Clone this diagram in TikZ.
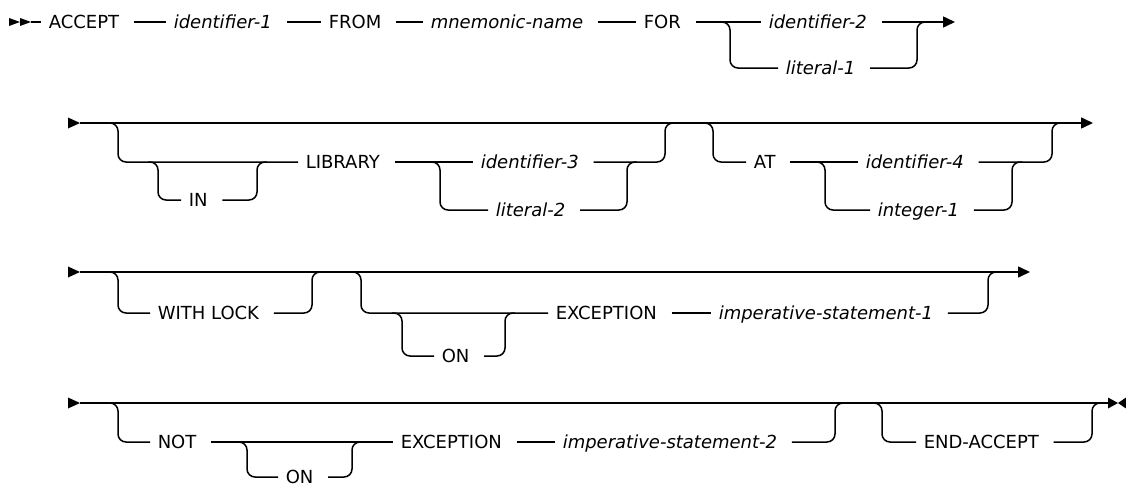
\documentclass[tikz,border=0pt]{standalone}
\usepackage{fontspec}
\setmainfont{DejaVu Sans}
\usetikzlibrary{arrows.meta}
\newcommand{\dfont}{\fontsize{18}{20}\selectfont}
\begin{document}
\begin{tikzpicture}[
  x=1pt, y=-1pt,
  line width=1.5pt,
  kw/.style={font=\dfont, anchor=west, inner xsep=7pt, inner ysep=0pt, text height=13pt, text depth=0pt, execute at end node={\hspace{7pt}}},
  var/.style={kw, font=\dfont\itshape},
  rc/.style={rounded corners=8pt},
  arr/.style={-{Triangle[length=12pt, width=11pt]}}
]
\useasboundingbox (0,0) rectangle (1126,487);
% Row 1: ACCEPT ... FOR
\coordinate (r1s) at (31,22);
\fill (r1s) -- ++(-11,-4) -- ++(0,8) -- cycle;
\fill ([xshift=-11pt]r1s) -- ++(-11,-4) -- ++(0,8) -- cycle;
\node[kw]  (accept) at (41,22)  {ACCEPT};
\node[var] (id1)    at (166,22) {identifier-1};
\node[kw]  (from)   at (321,22) {FROM};
\node[var] (mnem)   at (423,22) {mnemonic-name};
\node[kw]  (for)    at (636,22) {FOR};
\node[var] (id2)    at (761,22) {identifier-2};
\node[var] (lit1)   at (778,68) {literal-1};
\coordinate (c1a) at (730,22);
\coordinate (c1b) at (917,22);
\coordinate (r1e) at (955,22);
\draw (r1s) -- (accept);
\draw (accept) -- (id1);
\draw (id1) -- (from);
\draw (from) -- (mnem);
\draw (mnem) -- (for);
\draw (for) -- (id2);
\draw[arr] (id2) -- (r1e);
\draw[rc] ([xshift=-10pt]c1a) -| (c1a |- lit1.west) -- (lit1.west);
\draw[rc] (lit1.east) -| (c1b) -- ([xshift=10pt]c1b);
% Row 2: IN LIBRARY, AT
\coordinate (r2s) at (80,123);
\coordinate (r2e) at (1093,123);
\fill (r2s) -- ++(-12,-5.5) -- ++(0,11) -- cycle;
\draw[arr] (r2s) -- (r2e);
\coordinate (o2a) at (118,123);
\coordinate (in1) at (158,162);
\node[kw] (kin) at (181,200) {IN};
\coordinate (in2) at (257,162);
\node[kw]  (lib)  at (298,162) {LIBRARY};
\node[var] (id3)  at (473,162) {identifier-3};
\node[var] (lit2) at (488,210) {literal-2};
\coordinate (c2a) at (440,162);
\coordinate (c2b) at (627,162);
\coordinate (o2b) at (665,123);
\draw[rc] ([xshift=-10pt]o2a) -| (o2a |- lib.west) -- (lib.west);
\draw[rc] ([xshift=-10pt]in1) -| (in1 |- kin.west) -- (kin.west);
\draw[rc] (kin.east) -| (in2) -- ([xshift=10pt]in2);
\draw (lib) -- (id3);
\draw[rc] ([xshift=-10pt]c2a) -| (c2a |- lit2.west) -- (lit2.west);
\draw[rc] (lit2.east) -| (c2b) -- ([xshift=10pt]c2b);
\draw[rc] (id3.east) -| (o2b) -- ([xshift=10pt]o2b);
\coordinate (o3a) at (713,123);
\node[kw]  (kat)  at (746,162) {AT};
\node[var] (id4)  at (858,162) {identifier-4};
\node[var] (int1) at (870,210) {integer-1};
\coordinate (c3a) at (825,162);
\coordinate (c3b) at (1012,162);
\coordinate (o3b) at (1052,123);
\draw[rc] ([xshift=-10pt]o3a) -| (o3a |- kat.west) -- (kat.west);
\draw (kat) -- (id4);
\draw[rc] ([xshift=-10pt]c3a) -| (c3a |- int1.west) -- (int1.west);
\draw[rc] (int1.east) -| (c3b) -- ([xshift=10pt]c3b);
\draw[rc] (id4.east) -| (o3b) -- ([xshift=10pt]o3b);
% Row 3: WITH LOCK, ON EXCEPTION
\coordinate (r3s) at (80,272);
\coordinate (r3e) at (1030,272);
\fill (r3s) -- ++(-12,-5.5) -- ++(0,11) -- cycle;
\draw[arr] (r3s) -- (r3e);
\coordinate (o4a) at (118,272);
\node[kw] (lock) at (150,313) {WITH LOCK};
\coordinate (o4b) at (312,272);
\draw[rc] ([xshift=-10pt]o4a) -| (o4a |- lock.west) -- (lock.west);
\draw[rc] (lock.east) -| (o4b) -- ([xshift=10pt]o4b);
\coordinate (o5a) at (361,272);
\coordinate (on1a) at (402,313);
\node[kw] (on1) at (434,356) {ON};
\coordinate (on1b) at (505,313);
\node[kw]  (exc1) at (548,313) {EXCEPTION};
\node[var] (imp1) at (711,313) {imperative-statement-1};
\coordinate (o5b) at (988,272);
\draw[rc] ([xshift=-10pt]o5a) -| (o5a |- exc1.west) -- (exc1.west);
\draw[rc] ([xshift=-10pt]on1a) -| (on1a |- on1.west) -- (on1.west);
\draw[rc] (on1.east) -| (on1b) -- ([xshift=10pt]on1b);
\draw (exc1) -- (imp1);
\draw[rc] (imp1.east) -| (o5b) -- ([xshift=10pt]o5b);
% Row 4: NOT ON EXCEPTION, END-ACCEPT
\coordinate (r4s) at (80,403);
\coordinate (r4e) at (1118,403);
\fill (r4s) -- ++(-12,-5.5) -- ++(0,11) -- cycle;
\draw (r4s) -- ([xshift=-10pt]r4e);
\fill (r4e) -- ++(-10,-5.5) -- ++(0,11) -- cycle;
\fill (r4e) -- ++(8,-5.5) -- ++(0,11) -- cycle;
\coordinate (o6a) at (118,403);
\node[kw] (knot) at (150,442) {NOT};
\coordinate (on2a) at (247,442);
\node[kw] (on2) at (278,477) {ON};
\coordinate (on2b) at (352,442);
\node[kw]  (exc2) at (393,442) {EXCEPTION};
\node[var] (imp2) at (555,442) {imperative-statement-2};
\coordinate (o6b) at (835,403);
\draw[rc] ([xshift=-10pt]o6a) -| (o6a |- knot.west) -- (knot.west);
\draw (knot) -- (exc2);
\draw[rc] ([xshift=-10pt]on2a) -| (on2a |- on2.west) -- (on2.west);
\draw[rc] (on2.east) -| (on2b) -- ([xshift=10pt]on2b);
\draw (exc2) -- (imp2);
\draw[rc] (imp2.east) -| (o6b) -- ([xshift=10pt]o6b);
\coordinate (o7a) at (882,403);
\node[kw] (endacc) at (916,442) {END-ACCEPT};
\coordinate (o7b) at (1092,403);
\draw[rc] ([xshift=-10pt]o7a) -| (o7a |- endacc.west) -- (endacc.west);
\draw[rc] (endacc.east) -| (o7b) -- ([xshift=10pt]o7b);
\end{tikzpicture}
\end{document}
